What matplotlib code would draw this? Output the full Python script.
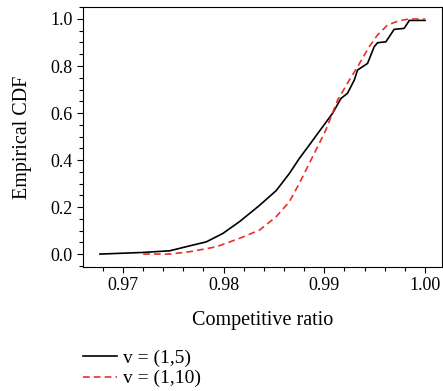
import matplotlib
matplotlib.use("Agg")
import matplotlib.pyplot as plt
from matplotlib.ticker import MultipleLocator

# Empirical CDF, v = (1,5)
ratio_v5 = [0.96772, 0.97201, 0.97465, 0.97663, 0.97828, 0.97993, 0.98158, 0.98356,
            0.98522, 0.98653, 0.98752, 0.98851, 0.98950, 0.99082, 0.99165, 0.99230,
            0.99297, 0.99330, 0.99429, 0.99495, 0.99528, 0.99611, 0.99693, 0.99792,
            0.99835, 0.99842, 1.00000]
cdf_v5 = [0.000, 0.007, 0.014, 0.035, 0.052, 0.088, 0.138, 0.207,
          0.270, 0.343, 0.407, 0.464, 0.522, 0.599, 0.662, 0.684,
          0.740, 0.783, 0.811, 0.882, 0.899, 0.903, 0.956, 0.960,
          0.988, 0.994, 0.994]

# Empirical CDF, v = (1,10)
ratio_v10 = [0.97201, 0.97465, 0.97663, 0.97928, 0.98158, 0.98356, 0.98522, 0.98653,
             0.98752, 0.98851, 0.98950, 0.99017, 0.99132, 0.99248, 0.99330, 0.99446,
             0.99528, 0.99627, 0.99743, 0.99842, 1.00000]
cdf_v10 = [0.000, 0.000, 0.010, 0.031, 0.067, 0.102, 0.159, 0.223,
           0.301, 0.386, 0.471, 0.530, 0.655, 0.740, 0.797, 0.882,
           0.932, 0.974, 0.993, 1.000, 1.000]

labels = ["v = (1,5)", "v = (1,10)"]

plt.rcParams["font.family"] = ["Liberation Serif", "DejaVu Serif"]
plt.rcParams["font.size"] = 13

fig = plt.figure(figsize=(4.43, 3.91), dpi=100)
ax = fig.add_axes([0.1874, 0.3171, 0.8103, 0.665])

ax.plot(ratio_v5, cdf_v5, color="black", lw=1.2, label=labels[0])
ax.plot(ratio_v10, cdf_v10, color="#e8302a", lw=1.2, ls=(0, (4, 2.5)), label=labels[1])

ax.set_xlim(0.96604, 1.00168)
ax.set_ylim(-0.055, 1.051)
ax.xaxis.set_major_locator(MultipleLocator(0.01))
ax.xaxis.set_minor_locator(MultipleLocator(0.002))
ax.yaxis.set_major_locator(MultipleLocator(0.2))
ax.yaxis.set_minor_locator(MultipleLocator(0.05))
ax.xaxis.set_major_formatter(lambda v, p: f"{v:.2f}")
ax.yaxis.set_major_formatter(lambda v, p: f"{v:.1f}")
ax.tick_params(which="major", direction="out", length=4, width=0.8, labelsize=13)
ax.tick_params(which="minor", direction="out", length=3, width=0.8)

ax.set_xlabel("Competitive ratio", fontsize=14.5, labelpad=12)
ax.set_ylabel("Empirical CDF", fontsize=14.5, labelpad=13)

fig.legend(loc="upper left", bbox_to_anchor=(0.166, 0.132), frameon=False,
           handlelength=1.75, handletextpad=0.3, labelspacing=0.15,
           borderpad=0, fontsize=14)

plt.savefig("out.png", dpi=100)
